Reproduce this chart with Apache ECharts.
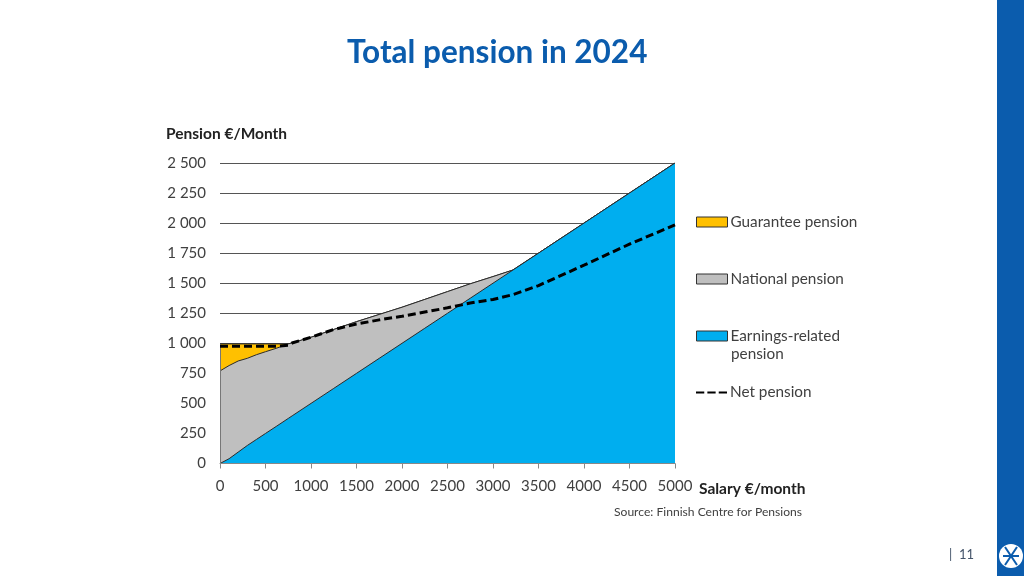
<!DOCTYPE html>
<html><head><meta charset="utf-8">
<style>html,body{margin:0;padding:0;background:#fff}#c{width:1024px;height:576px}</style>
<script src="https://cdn.jsdelivr.net/npm/echarts@6/dist/echarts.min.js"></script>
</head><body><div id="c"></div>
<script>
const salary        = [0,100,200,300,400,500,625,750,800,1000,1250,1500,1750,2000,2250,2500,2750,3000,3220,3500,4000,4500,5000];
const earningsTop   = [0,40,95,150,200,250,312,375,400,500,625,750,875,1000,1125,1250,1375,1500,1610,1750,2000,2250,2500];
const nationalTop   = [770,815,853,875,905,930,960,995,1005,1050,1115,1180,1240,1300,1365,1430,1495,1555,1610,1750,2000,2250,2500];
const guaranteeTop  = [995,995,995,995,995,995,995,995,1005,1050,1115,1180,1240,1300,1365,1430,1495,1555,1610,1750,2000,2250,2500];
const net           = [975,975,975,975,975,975,975,985,1005,1050,1115,1160,1195,1225,1260,1295,1335,1365,1405,1480,1650,1825,1985];
const FONT='Lato, "Open Sans", sans-serif', TXT='#404040', BLUE='#0b5cad';
const pairs=a=>a.map((v,i)=>[salary[i],v]);
const area=(name,data,color,z)=>({name,type:'line',data:pairs(data),symbol:'none',silent:true,z,
  lineStyle:{color:'#2b2b2b',width:1},itemStyle:{color},
  areaStyle:{color,opacity:1}});
const leg=(name,top,extra)=>Object.assign({data:[name],left:696,top,itemWidth:31,itemHeight:10,itemGap:0,padding:0,
  icon:'rect',itemStyle:{borderWidth:1,borderColor:'#333'},lineStyle:{width:1,color:'#333'},
  textStyle:{color:TXT,fontFamily:FONT,fontSize:15.3,padding:[0,0,0,-2]}},extra||{});
const chart=echarts.init(document.getElementById('c'),null,{renderer:'canvas'});
chart.setOption({
  animation:false,backgroundColor:'#fff',
  title:{text:'Total pension in 2024',left:347,top:37,padding:0,textStyle:{color:BLUE,fontFamily:FONT,fontWeight:'bold',fontSize:31.5}},
  grid:{left:220,right:349,top:163,height:300.5,containLabel:false},
  xAxis:{type:'value',min:0,max:5000,interval:500,z:6,
    axisLine:{show:true,lineStyle:{color:'#888',width:1}},axisTick:{show:true,length:5,lineStyle:{color:'#888'}},
    axisLabel:{color:TXT,fontFamily:FONT,fontSize:15,margin:15,formatter:v=>String(v)},splitLine:{show:false}},
  yAxis:{type:'value',min:0,max:2500,interval:250,
    axisLine:{show:false},axisTick:{show:false},
    axisLabel:{color:TXT,fontFamily:FONT,fontSize:15,margin:14,formatter:v=>v>=1000?String(v).replace(/(\d)(\d{3})$/,'$1 $2'):String(v)},
    splitLine:{show:true,lineStyle:{color:'#555',width:1}}},
  legend:[
    leg('Guarantee pension',214.5),
    leg('National pension',271.5),
    leg('Earnings-related pension',328.5,{formatter:()=>'Earnings-related'}),
    leg('Net pension',385,{itemHeight:3,icon:'path://M0 0h8v2H0z M11 0h8v2h-8z M22 0h8v2h-8z',
      itemStyle:{color:'#000',borderWidth:0},lineStyle:{width:0}})
  ],
  series:[
    Object.assign(area('Guarantee pension',guaranteeTop,'#ffc000',2),{
      markLine:{silent:true,symbol:'none',label:{show:false},lineStyle:{color:'#777',width:1,type:'solid'},
        data:[[{coord:[0,0]},{coord:[0,guaranteeTop[0]]}]]}}),
    area('National pension',nationalTop,'#bfbfbf',3),
    area('Earnings-related pension',earningsTop,'#00aeef',4),
    {name:'Net pension',type:'line',data:pairs(net),symbol:'none',silent:true,z:5,
      itemStyle:{color:'#000'},lineStyle:{color:'#000',width:3,type:[8,4]}}
  ],
  graphic:[
    {type:'rect',shape:{x:997,y:0,width:27,height:576},style:{fill:BLUE}},
    {type:'circle',shape:{cx:1011,cy:556,r:12},style:{fill:'#fff'}},
    {type:'line',shape:{x1:1003,y1:556,x2:1019,y2:556},style:{stroke:BLUE,lineWidth:2}},
    {type:'line',shape:{x1:1005,y1:547,x2:1017,y2:565},style:{stroke:BLUE,lineWidth:2}},
    {type:'line',shape:{x1:1017,y1:547,x2:1005,y2:565},style:{stroke:BLUE,lineWidth:2}},
    {type:'text',left:166,top:126,style:{text:'Pension €/Month',fill:'#222',font:'bold 15.5px '+FONT}},
    {type:'text',left:699,top:481,style:{text:'Salary €/month',fill:'#222',font:'bold 15.5px '+FONT}},
    {type:'text',left:614,top:506,style:{text:'Source: Finnish Centre for Pensions',fill:TXT,font:'12.1px '+FONT}},
    {type:'text',left:731,top:347,style:{text:'pension',fill:TXT,font:'15.3px '+FONT}},
    {type:'text',left:949,top:548,style:{text:'|',fill:'#44546a',font:'13px '+FONT}},
    {type:'text',left:959,top:548,style:{text:'11',fill:'#44546a',font:'13px '+FONT}}
  ]
});
</script></body></html>
